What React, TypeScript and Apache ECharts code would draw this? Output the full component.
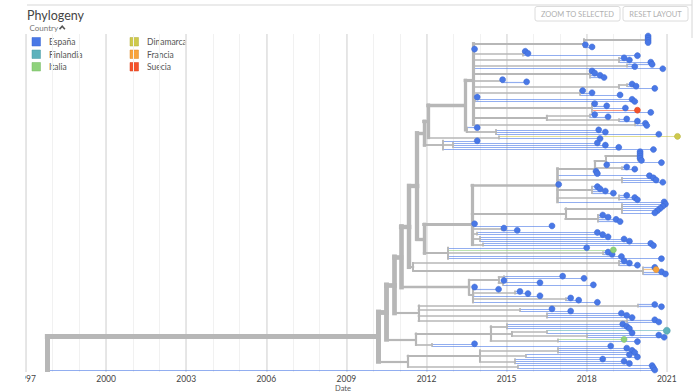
import React, { useEffect, useRef } from 'react';
import * as echarts from 'echarts';

// ---------- data ----------
const countryCodes = ['E', 'F', 'I', 'D', 'R', 'S'];
const countryNames = ['España', 'Finlandia', 'Italia', 'Dinamarca', 'Francia', 'Suecia'];
const countryColors = ['#4978E6', '#5DB2BC', '#8FD27C', '#CEC94C', '#F8A33C', '#F4532C'];
const countryBorders = ['#3A66D2', '#4A9AA4', '#74B862', '#B3AE38', '#DD8A28', '#D8401C'];

// tree clades in a compact newick-like form: tip = date[+country code], internal = (children)date
const cladeT =
  '(((2020.3,2020.3,2020.3,2020.3)2020.2,2017.95,2018.2)2017.9,2013.8,(2015.7,2015.8,2019.9)2015.6,' +
  '(2019.4,2019.6,2020.4)2019.2,(2020.45,2019.8)2019.5,2020.85,(2018.2,2018.3,2018.5,2018.65)2018.1,' +
  '(2014.85,2015.75)2014.8,((2019.7,2019.85)2019.5,2020.55)2019.2,(2017.85,2018.2,2019.25)2017.75,' +
  '(2013.9,2019.7,2019.8)2013.8,(2018.3,2018.75,2019.45,2019.9S,2020.4)2018.2,' +
  '((2018.3,2018.8)2018.1,(2019.5,2019.9)2019.2)2016.5,(2020.2,2020.25)2019.8)2013.75';
const cladeX1 = '(2013.9,(2018.45,2018.7,2020.7)2014.6)2013.5';
const cladeXd = '(2021.4D,2018.5)2014.7';
const cladeXb = '(2013.9,(2018.4,2018.7,2019.2)2013.0,2020.5)2012.6';
const cladeN =
  '((((2020.0,2020.0,2020.0,2020.0,2020.05)2019.9,2020.8,2018.75)2018.7,(2019.5,2019.8)2019.3,2018.35,2018.4)2018.3,' +
  '2020.35,(2020.5,2020.6,2020.85)2019.3,2016.95,(2018.4,2018.5,2018.7,2019.0)2018.2,(2019.5,2019.8,2019.9)2019.2,2020.9)2016.9';
const cladeM2 = '((2020.95,2020.85,2020.75,2020.65,2020.55)2019.3,(2018.6,2018.8,2019.1,2019.25)2018.4)2017.2';
const cladeMrest = '2013.8,2016.7,(2014.9,2015.4)2014.8,(2018.4,2018.6)2013.9,(2018.8,2019.4,2019.6)2014.0,(2020.4,2020.5)2014.1';
const cladeXi = '(2018.0,2019.0I,(2018.8,2018.95)2018.6,2019.3,2020.8)2012.8';
const cladeJ = '((2019.4,2019.6,2019.9)2019.2,(2020.55,2020.6R,2020.8,2020.95)2020.1)2011.5';
const cladeH =
  '(((2017.1,2017.9)2014.9,(2014.9,2016.25,2018.25)2014.85)2014.7,' +
  '(2013.8,2014.7,(2015.5,2015.8)2015.3,2016.25,(2017.4,2017.7)2017.2,2018.4)2013.75)2013.6';
const cladeF = '((2020.55,2020.8)2019.9,(2016.7,2017.4)2015.5,(2019.3,2019.5,2019.7)2016.5,(2020.55,2020.7)2019.5)2011.7';
const cladeD =
  '(((2019.35,2019.5,2019.6)2015.0,((2021.0F,2019.7)2016.5,(2020.7,2020.9)2018.0)2015.2,(2019.4I,2019.9)2016.9)2014.4,' +
  '(2013.8,2018.9)2012.2)2011.6';
const cladeZ = '(((2019.5,2019.7,2019.8)2016.9,(2019.6,2019.9)2015.7,(2018.6,2019.4,2019.6)2015.3)2014.0,(2020.45,2020.5)2015.4)2011.3';
const outgroupTip = '2020.55';
// backbone node dates (ladder), from the root upwards
const backboneDates = [1997.8, 2010.2, 2010.5, 2010.8, 2011.05, 2011.35, 2011.65, 2011.9, 2012.05, 2013.45, 2013.7];

const [dRoot, dA, dB, dC, dE, dG, dI, dK, dK1, dK2, dM] = backboneDates;
const cladeM = `(${cladeN},${cladeM2},${cladeMrest})${dM}`;
const nK2 = `(${cladeT},${cladeX1})${dK2}`;
const nK1 = `(${nK2},${cladeXd})${dK1}`;
const nK = `(${nK1},${cladeXb})${dK}`;
const nL = `(${cladeM},${cladeXi})${dK}`;
const nI = `(${nK},${nL})${dI}`;
const nG = `(${nI},${cladeJ})${dG}`;
const nE = `(${nG},${cladeH})${dE}`;
const nC = `(${nE},${cladeF})${dC}`;
const nB = `(${nC},${cladeD})${dB}`;
const nA = `(${nB},${cladeZ})${dA}`;
const treeString = `(${nA},${outgroupTip})${dRoot}`;

// axis
const axisMin = 1997;
const axisMax = 2022;
const labelStep = 3;

// ---------- tree parsing / layout ----------
interface TNode {
  date: number;
  code: string;
  children: TNode[];
  parent?: TNode;
  y: number;
  tips: number;
}

function parseTree(src: string): TNode {
  const s = src.replace(/\s+/g, '');
  let i = 0;
  const readNum = (): [number, string] => {
    const m = /^(\d+(?:\.\d+)?)([A-Z]?)/.exec(s.slice(i));
    if (!m) throw new Error('parse error at ' + i);
    i += m[0].length;
    return [parseFloat(m[1]), m[2] || 'E'];
  };
  const node = (): TNode => {
    if (s[i] === '(') {
      i++;
      const children: TNode[] = [];
      for (;;) {
        children.push(node());
        if (s[i] === ',') { i++; continue; }
        if (s[i] === ')') { i++; break; }
        throw new Error('parse error at ' + i);
      }
      const [d] = readNum();
      const n: TNode = { date: d, code: '', children, y: 0, tips: 0 };
      children.forEach((c) => (c.parent = n));
      return n;
    }
    const [d, c] = readNum();
    return { date: d, code: c, children: [], y: 0, tips: 1 };
  };
  return node();
}

function buildOption() {
  const root = parseTree(treeString);
  let idx = 0;
  const layout = (n: TNode) => {
    if (!n.children.length) { n.y = idx++; n.tips = 1; return; }
    n.children.forEach(layout);
    n.y = n.children.reduce((a, c) => a + c.y, 0) / n.children.length;
    n.tips = n.children.reduce((a, c) => a + c.tips, 0);
  };
  layout(root);
  const nTips = idx;
  const width = (t: number) => 1.2 + 3.8 * Math.sqrt(t / nTips);
  const gray = '#b7b7b7';

  const tipStems: any[] = [];
  const internal: any[] = [];
  const tipsBy: Record<string, number[][]> = {};
  countryCodes.forEach((c) => (tipsBy[c] = []));

  const walk = (n: TNode) => {
    const isTip = !n.children.length;
    if (n.parent) {
      if (isTip) {
        const ci = countryCodes.indexOf(n.code);
        tipStems.push({
          coords: [[n.parent.date, n.y], [n.date, n.y]],
          lineStyle: { color: countryColors[ci], width: 1.2, opacity: 0.6 },
        });
      } else {
        internal.push({
          coords: [[n.parent.date, n.y], [n.date, n.y]],
          lineStyle: { color: gray, width: width(n.tips), opacity: 1 },
        });
      }
    }
    if (!isTip) {
      const first = n.children[0].y;
      const last = n.children[n.children.length - 1].y;
      internal.push({
        coords: [[n.date, first], [n.date, last]],
        lineStyle: { color: gray, width: width(n.tips), opacity: 1 },
      });
      n.children.forEach(walk);
    } else {
      tipsBy[n.code].push([n.date, n.y]);
    }
  };
  walk(root);

  const pad = (2 * (nTips - 1)) / 334;

  const scatter = countryCodes.map((c, i) => ({
    type: 'scatter',
    name: countryNames[i],
    data: tipsBy[c],
    symbol: 'circle',
    symbolSize: c === 'F' ? 7 : 6,
    z: 5,
    silent: true,
    itemStyle: { color: countryColors[i], borderColor: countryBorders[i], borderWidth: 0.5, opacity: 1 },
  }));

  const legendGraphics: any[] = [];
  countryNames.forEach((name, i) => {
    const col = Math.floor(i / 3);
    const row = i % 3;
    const x = col === 0 ? 32 : 130;
    const y = 37.5 + row * 12.5;
    legendGraphics.push({
      type: 'rect',
      shape: { x, y, width: 8.5, height: 8.5 },
      style: { fill: countryColors[i], stroke: countryBorders[i], lineWidth: 0.5 },
    });
    legendGraphics.push({
      type: 'text',
      x: x + 17,
      y: y + 4.5,
      style: { text: name, fontSize: 8.5, fontFamily: 'Lato', fill: '#555', verticalAlign: 'middle' },
    });
  });

  const button = (x: number, w: number, label: string) => [
    {
      type: 'rect',
      shape: { x, y: 6.5, width: w, height: 14.5, r: 2 },
      style: { fill: '#fff', stroke: '#dcdcdc', lineWidth: 1 },
    },
    {
      type: 'text',
      x: x + w / 2,
      y: 14,
      style: { text: label, fontSize: 7.5, fontFamily: 'Lato', fill: '#b0b0b0', align: 'center', verticalAlign: 'middle' },
    },
  ];

  return {
    animation: false,
    grid: { left: 26, right: 4.5, top: 34, bottom: 20, containLabel: false },
    xAxis: [
      {
        type: 'value',
        min: axisMin,
        max: axisMax,
        interval: 1,
        z: 2,
        axisLine: { show: false },
        axisTick: { show: false },
        axisLabel: {
          formatter: (v: number) => {
            const r = Math.round(v);
            return Math.abs(v - r) < 1e-6 && (r - axisMin) % labelStep === 0 ? String(r) : '';
          },
          color: '#444',
          fontSize: 8.5,
          fontFamily: 'Lato',
          margin: 2,
        },
        splitLine: {
          show: true,
          showMaxLine: false,
          lineStyle: { color: ['#e2e2e2', 'rgba(0,0,0,0)', 'rgba(0,0,0,0)'], width: 1.6 },
        },
      },
      {
        type: 'value',
        min: axisMin,
        max: axisMax,
        interval: 1,
        position: 'bottom',
        z: 1,
        axisLine: { show: false },
        axisTick: { show: false },
        axisLabel: { show: false },
        splitLine: { show: true, showMaxLine: false, lineStyle: { color: '#f1f1f1', width: 1 } },
      },
    ],
    yAxis: { type: 'value', inverse: true, min: -pad, max: nTips - 1 + pad, show: false },
    series: [
      {
        type: 'lines',
        coordinateSystem: 'cartesian2d',
        polyline: false,
        silent: true,
        z: 2,
        lineStyle: { cap: 'butt' },
        data: tipStems,
      },
      {
        type: 'lines',
        coordinateSystem: 'cartesian2d',
        polyline: false,
        silent: true,
        z: 3,
        lineStyle: { cap: 'square' },
        data: internal,
      },
      ...scatter,
    ],
    graphic: [
      { type: 'line', shape: { x1: 27, y1: 5, x2: 692, y2: 5 }, style: { stroke: '#e4e4e4', lineWidth: 1.5 } },
      { type: 'line', shape: { x1: 692, y1: 0, x2: 692, y2: 38 }, style: { stroke: '#d6d6d6', lineWidth: 1 } },
      {
        type: 'text',
        x: 27,
        y: 15,
        style: { text: 'Phylogeny', fontSize: 12.5, fontFamily: 'Lato', fill: '#444', verticalAlign: 'middle' },
      },
      {
        type: 'text',
        x: 29.5,
        y: 27.5,
        style: { text: 'Country', fontSize: 8, fontFamily: 'Lato', fill: '#777', verticalAlign: 'middle' },
      },
      {
        type: 'polyline',
        shape: { points: [[59.5, 29.3], [62.2, 26.3], [64.9, 29.3]] },
        style: { stroke: '#555', lineWidth: 1.6, fill: 'none' },
      },
      ...legendGraphics,
      ...button(535, 85, 'ZOOM TO SELECTED'),
      ...button(623, 65, 'RESET LAYOUT'),
      { type: 'rect', z: 100, shape: { x: 0, y: 373, width: 25, height: 19 }, style: { fill: '#fff' } },
      {
        type: 'text',
        x: 343,
        y: 388,
        style: { text: 'Date', fontSize: 7.5, fontFamily: 'Lato', fill: '#555', align: 'center', verticalAlign: 'middle' },
      },
    ],
  };
}

export default function App() {
  const ref = useRef<HTMLDivElement>(null);
  useEffect(() => {
    if (!ref.current) return;
    const chart = echarts.init(ref.current, null, { renderer: 'svg' });
    chart.setOption(buildOption() as any);
    return () => chart.dispose();
  }, []);
  return (
    <div style={{ position: 'absolute', left: 0, top: 0, width: 698, height: 392, background: '#fff', overflow: 'hidden' }}>
      <div ref={ref} style={{ width: 698, height: 392 }} />
    </div>
  );
}
